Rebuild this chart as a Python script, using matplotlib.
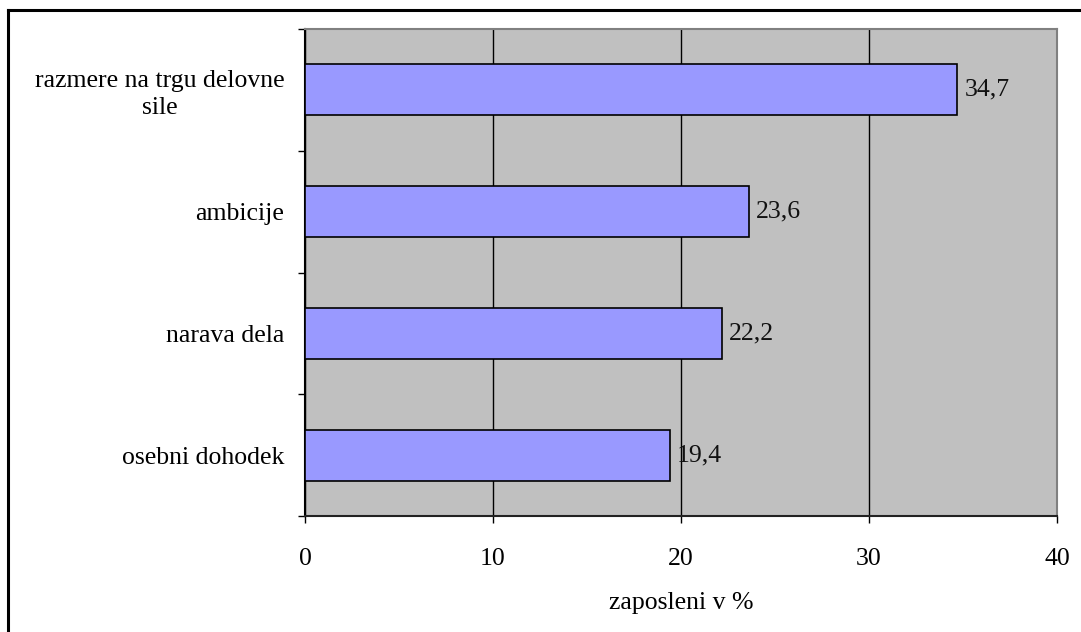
import matplotlib
matplotlib.use('Agg')
import matplotlib.pyplot as plt
from matplotlib.lines import Line2D

plt.rcParams['font.family'] = ['Liberation Serif', 'DejaVu Serif']

# data
categories = ['razmere na trgu delovne\nsile', 'ambicije', 'narava dela', 'osebni dohodek']
values = [34.7, 23.6, 22.2, 19.4]
value_labels = ['34,7', '23,6', '22,2', '19,4']
xticks = [0, 10, 20, 30, 40]

fs = 18.5

fig = plt.figure(figsize=(10.81, 6.32), dpi=100)
ax = fig.add_axes([305 / 1081, 116 / 632, 752 / 1081, 487 / 632])
ax.set_facecolor('#C0C0C0')

ypos = list(range(len(categories)))
ax.barh(ypos, values, height=0.42, color='#9999FF', edgecolor='black', linewidth=1.2, zorder=3)

for y, v, lab in zip(ypos, values, value_labels):
    ax.annotate(lab, (v, y), xytext=(5, 0), textcoords='offset points',
                va='center', ha='left', fontsize=fs, color='#111111', zorder=4)

ax.set_xlim(0, 40)
ax.set_ylim(len(categories) - 0.5, -0.5)

ax.set_xticks(xticks)
ax.set_xticklabels([str(t) for t in xticks], fontsize=fs)
ax.tick_params(axis='x', direction='out', length=5, width=1, pad=18)
ax.xaxis.grid(True, color='black', linewidth=1, zorder=1)
ax.set_axisbelow(True)

# category dividers as major ticks, names as minor ticks
ax.set_yticks([i - 0.5 for i in range(len(categories) + 1)])
ax.set_yticklabels([])
ax.tick_params(axis='y', which='major', direction='out', length=5, width=1)
ax.set_yticks(ypos, minor=True)
ax.set_yticklabels(categories, minor=True, fontsize=fs, multialignment='center', linespacing=1.25)
ax.tick_params(axis='y', which='minor', length=0, pad=15)

ax.set_xlabel('zaposleni v %', fontsize=fs, labelpad=16)

ax.spines['left'].set_color('black')
ax.spines['bottom'].set_color('#222222')
ax.spines['top'].set_color('#808080')
ax.spines['right'].set_color('#808080')
for s in ax.spines.values():
    s.set_linewidth(1.5)

# outer frame around the chart
fig.add_artist(Line2D([8 / 1081, 8 / 1081], [0, 1 - 10 / 632], transform=fig.transFigure,
                      color='black', linewidth=2.2))
fig.add_artist(Line2D([8 / 1081, 1], [1 - 10 / 632, 1 - 10 / 632], transform=fig.transFigure,
                      color='black', linewidth=2.2))

fig.savefig('out.png', dpi=100)
